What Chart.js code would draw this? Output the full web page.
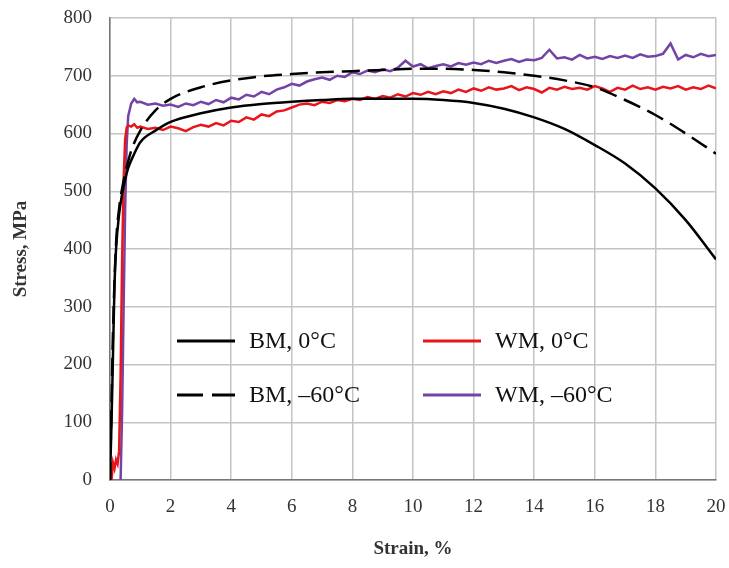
<!DOCTYPE html>
<html>
<head>
<meta charset="utf-8">
<script src="https://cdn.jsdelivr.net/npm/chart.js@4.4.1/dist/chart.umd.min.js"></script>
<style>
  html, body { margin: 0; padding: 0; background: #fff; }
  #wrap { width: 729px; height: 568px; }
</style>
</head>
<body>
<div id="wrap"><canvas id="stressChart" width="729" height="568"></canvas></div>
<script>
// Stress-strain curves, base metal (BM) and weld metal (WM)
const xTicks = [0, 2, 4, 6, 8, 10, 12, 14, 16, 18, 20];
const yTicks = [0, 100, 200, 300, 400, 500, 600, 700, 800];

const bm0Strain = [0, 0.05, 0.1, 0.15, 0.2, 0.3, 0.4, 0.5, 0.6, 0.8, 1, 1.5, 2, 3, 4, 5, 6, 7, 8, 9, 10, 11, 12, 13, 14, 15, 16, 17, 18, 19, 20];
const bm0Stress = [0, 100, 220, 340, 400, 460, 495, 520, 540, 565, 585, 605, 620, 635, 645, 651, 655, 658, 660, 660, 660, 658, 653, 643, 628, 608, 580, 548, 505, 450, 382];

const bm60Strain = [0, 0.05, 0.1, 0.2, 0.3, 0.4, 0.5, 0.7, 1, 1.5, 2, 3, 4, 5, 6, 7, 8, 9, 10, 11, 12, 13, 14, 15, 16, 17, 18, 19, 20];
const bm60Stress = [0, 130, 260, 410, 470, 505, 530, 570, 605, 640, 660, 680, 692, 699, 703, 706, 708, 710, 712, 712, 710, 706, 700, 692, 680, 658, 632, 600, 565];

// weld metal curves are noisy, read every 0.25 %
const wmStrain = [
  1, 1.25, 1.5, 1.75, 2, 2.25, 2.5, 2.75, 3, 3.25, 3.5, 3.75, 4, 4.25, 4.5, 4.75,
  5, 5.25, 5.5, 5.75, 6, 6.25, 6.5, 6.75, 7, 7.25, 7.5, 7.75, 8, 8.25, 8.5, 8.75,
  9, 9.25, 9.5, 9.75, 10, 10.25, 10.5, 10.75, 11, 11.25, 11.5, 11.75, 12, 12.25, 12.5, 12.75,
  13, 13.25, 13.5, 13.75, 14, 14.25, 14.5, 14.75, 15, 15.25, 15.5, 15.75, 16, 16.25, 16.5, 16.75,
  17, 17.25, 17.5, 17.75, 18, 18.25, 18.5, 18.75, 19, 19.25, 19.5, 19.75, 20
];

const wm0RiseStrain = [0.05, 0.1, 0.15, 0.2, 0.25, 0.3, 0.35, 0.4, 0.45, 0.5, 0.55, 0.6, 0.7, 0.8, 0.9];
const wm0RiseStress = [0, 30, 20, 35, 28, 50, 180, 380, 520, 590, 610, 614, 612, 616, 610];
const wm0Stress = [
  612, 608, 610, 606, 612, 609, 604, 611, 615, 612, 618, 614, 622, 620, 628, 624,
  633, 630, 638, 640, 645, 650, 652, 649, 655, 653, 658, 656, 660, 658, 663, 660,
  665, 662, 668, 664, 670, 667, 672, 668, 673, 670, 676, 672, 678, 674, 680, 676,
  678, 682, 675, 680, 677, 671, 679, 676, 681, 677, 679, 676, 682, 678, 672, 679,
  676, 683, 677, 680, 676, 681, 678, 682, 676, 680, 677, 683, 678
];

const wm60RiseStrain = [0.35, 0.4, 0.45, 0.5, 0.55, 0.6, 0.7, 0.8, 0.9];
const wm60RiseStress = [0, 120, 300, 470, 580, 630, 652, 660, 654];
const wm60Stress = [
  655, 650, 652, 648, 650, 646, 652, 649, 655, 651, 658, 654, 662, 659, 667, 664,
  672, 668, 676, 680, 686, 683, 690, 694, 697, 693, 700, 698, 706, 703, 709, 706,
  711, 708, 714, 726, 716, 720, 713, 717, 720, 716, 722, 719, 723, 720, 726, 722,
  726, 729, 724, 728, 727, 731, 745, 730, 732, 728, 736, 730, 733, 729, 734, 731,
  735, 731, 737, 733, 734, 738, 756, 728, 736, 732, 738, 734, 736
];

const serif = "'Liberation Serif', 'Times New Roman', serif";

function pairs(xs, ys) {
  return xs.map((x, i) => ({ x: x, y: ys[i] }));
}

const legendItems = [
  { label: "BM, 0°C", ds: 0, col: 0, row: 0 },
  { label: "WM, 0°C", ds: 2, col: 1, row: 0 },
  { label: "BM, \u201360°C", ds: 1, col: 0, row: 1 },
  { label: "WM, \u201360°C", ds: 3, col: 1, row: 1 },
];

// legend sits inside the plot, drawn by hand
const insideLegend = {
  id: "insideLegend",
  afterDatasetsDraw(chart) {
    const ctx = chart.ctx;
    const colX = [177, 423];
    const rowY = [341, 395];
    ctx.save();
    legendItems.forEach((item) => {
      const ds = chart.data.datasets[item.ds];
      const x0 = colX[item.col];
      const y0 = rowY[item.row];
      ctx.strokeStyle = ds.borderColor;
      ctx.lineWidth = 3;
      ctx.setLineDash(ds.borderDash ? [26, 9] : []);
      ctx.beginPath();
      ctx.moveTo(x0, y0);
      ctx.lineTo(x0 + 58, y0);
      ctx.stroke();
      ctx.setLineDash([]);
      ctx.fillStyle = "#111";
      ctx.font = "24px " + serif;
      ctx.textBaseline = "middle";
      ctx.fillText(item.label, x0 + 72, y0 + 1);
    });
    ctx.restore();
  },
};

const ctx = document.getElementById("stressChart").getContext("2d");
new Chart(ctx, {
  type: "line",
  data: {
    datasets: [
      {
        label: "BM, 0°C",
        data: pairs(bm0Strain, bm0Stress),
        borderColor: "#000000",
        borderWidth: 2.5,
        cubicInterpolationMode: "monotone",
      },
      {
        label: "BM, -60°C",
        data: pairs(bm60Strain, bm60Stress),
        borderColor: "#000000",
        borderWidth: 2.5,
        borderDash: [18, 8],
        cubicInterpolationMode: "monotone",
      },
      {
        label: "WM, 0°C",
        data: pairs(wm0RiseStrain.concat(wmStrain), wm0RiseStress.concat(wm0Stress)),
        borderColor: "#e8161c",
        borderWidth: 2.5,
      },
      {
        label: "WM, -60°C",
        data: pairs(wm60RiseStrain.concat(wmStrain), wm60RiseStress.concat(wm60Stress)),
        borderColor: "#7443a6",
        borderWidth: 2.5,
      },
    ],
  },
  options: {
    responsive: false,
    animation: false,
    layout: { padding: 0 },
    elements: { point: { radius: 0 }, line: { tension: 0 } },
    plugins: {
      legend: { display: false },
      tooltip: { enabled: false },
    },
    scales: {
      x: {
        type: "linear",
        min: 0,
        max: 20,
        afterBuildTicks: (scale) => {
          scale.ticks = xTicks.map((v) => ({ value: v }));
        },
        afterFit: (scale) => {
          scale.height = 88;
          scale.paddingLeft = 0;
          scale.paddingRight = 13;
        },
        ticks: {
          color: "#333",
          font: { family: serif, size: 19 },
          padding: 16,
        },
        grid: { color: "#c4c4c4", lineWidth: 1.5, drawTicks: false },
        border: { color: "#777", width: 1.5 },
        title: {
          display: true,
          text: "Strain, %",
          color: "#333",
          font: { family: serif, size: 19, weight: "bold" },
          padding: { top: 4, bottom: 8 },
        },
      },
      y: {
        type: "linear",
        min: 0,
        max: 800,
        afterBuildTicks: (scale) => {
          scale.ticks = yTicks.map((v) => ({ value: v }));
        },
        afterFit: (scale) => {
          scale.width = 110;
          scale.paddingTop = 18;
          scale.paddingBottom = 0;
        },
        ticks: {
          color: "#333",
          font: { family: serif, size: 19 },
          padding: 18,
        },
        grid: { color: "#c4c4c4", lineWidth: 1.5, drawTicks: false },
        border: { color: "#777", width: 1.5 },
        title: {
          display: true,
          text: "Stress, MPa",
          color: "#333",
          font: { family: serif, size: 19, weight: "bold" },
          padding: { top: 10, bottom: 4 },
        },
      },
    },
  },
  plugins: [insideLegend],
});
</script>
</body>
</html>
